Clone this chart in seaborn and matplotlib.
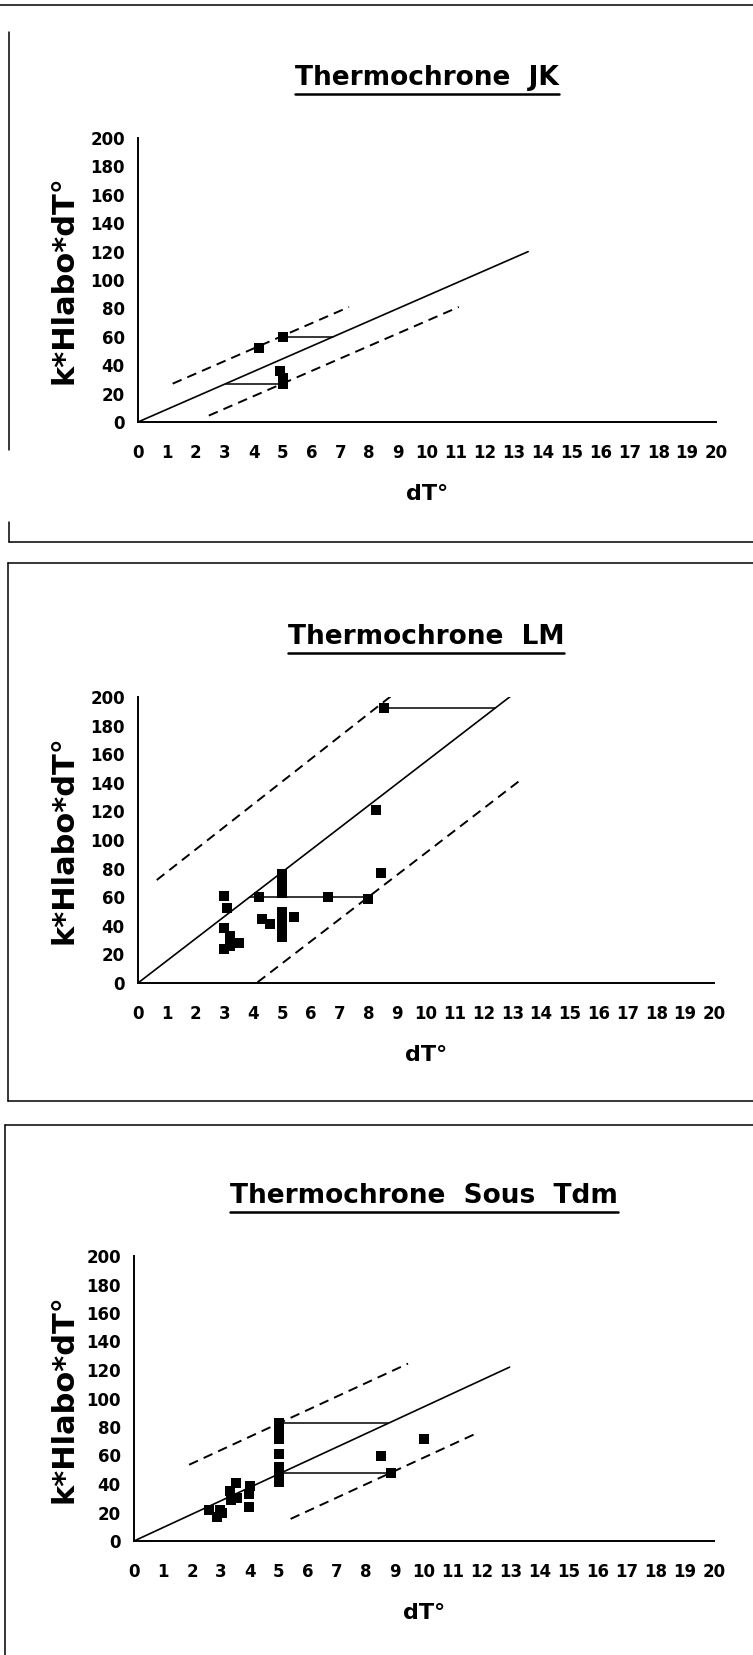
import matplotlib
matplotlib.use("Agg")
import matplotlib.pyplot as plt
from matplotlib.lines import Line2D
import seaborn as sns

# ---------------- data: Thermochrone JK ----------------
jk_dt = [4.2, 5.0, 4.9, 5.0, 5.0]
jk_val = [52, 60, 36, 31, 27]
jk_fit_dt, jk_fit_val = [0, 13.5], [0, 120]
jk_up_dt, jk_up_val = [1.2, 7.3], [27, 81]
jk_lo_dt, jk_lo_val = [2.45, 11.1], [4.5, 81]
jk_link_from = [5.0, 3.05]
jk_link_to = [6.75, 5.0]
jk_link_val = [60, 27]

# ---------------- data: Thermochrone LM ----------------
lm_dt = [3.0, 3.1, 3.0, 3.2, 3.5, 3.0, 3.2,
         4.2, 4.3, 4.6,
         5.0, 5.0, 5.0, 5.0, 5.0, 5.0, 5.0, 5.0, 5.0, 5.4,
         6.6, 8.0, 8.25, 8.45, 8.55]
lm_val = [61, 52.5, 38.5, 33, 28, 24, 26,
          60, 45, 41,
          76, 71.5, 67, 63, 49.5, 45, 40, 35.5, 32, 46.5,
          60, 58.5, 121, 77, 192]
lm_fit_dt, lm_fit_val = [0, 13.0], [0, 201.5]
lm_up_dt, lm_up_val = [0.65, 9.0], [72, 204]
lm_lo_dt, lm_lo_val = [4.15, 13.35], [0.5, 143]
lm_link_from = [3.9, 8.55]
lm_link_to = [8.0, 12.4]
lm_link_val = [60, 192]

# ---------------- data: Thermochrone Sous Tdm ----------------
st_dt = [2.6, 2.95, 2.85, 3.05, 3.3, 3.5, 3.35, 3.55, 4.0, 3.95, 3.95,
         5.0, 5.0, 5.0, 5.0, 5.0, 5.0, 5.0, 5.0,
         8.5, 8.85, 10.0]
st_val = [22, 22, 17, 19.5, 35, 40.5, 29, 30, 38.5, 33, 24,
          82.5, 76, 71.5, 61, 52, 48, 44.5, 41.5,
          60, 47.5, 71.5]
st_fit_dt, st_fit_val = [0, 12.95], [0, 122]
st_up_dt, st_up_val = [1.9, 9.45], [53.5, 124.5]
st_lo_dt, st_lo_val = [5.4, 11.75], [15.5, 75]
st_link_from = [5.0, 5.0]
st_link_to = [8.75, 8.85]
st_link_val = [82.5, 47.5]

titles = ["Thermochrone  JK", "Thermochrone  LM", "Thermochrone  Sous  Tdm"]
x_ticks = list(range(0, 21))
y_ticks = list(range(0, 201, 20))
x_label = "dT°"
y_label = "k*Hlabo*dT°"

panels = [
    dict(title=titles[0], dt=jk_dt, val=jk_val,
         fit=(jk_fit_dt, jk_fit_val), up=(jk_up_dt, jk_up_val), lo=(jk_lo_dt, jk_lo_val),
         links=(jk_link_from, jk_link_to, jk_link_val)),
    dict(title=titles[1], dt=lm_dt, val=lm_val,
         fit=(lm_fit_dt, lm_fit_val), up=(lm_up_dt, lm_up_val), lo=(lm_lo_dt, lm_lo_val),
         links=(lm_link_from, lm_link_to, lm_link_val)),
    dict(title=titles[2], dt=st_dt, val=st_val,
         fit=(st_fit_dt, st_fit_val), up=(st_up_dt, st_up_val), lo=(st_lo_dt, st_lo_val),
         links=(st_link_from, st_link_to, st_link_val)),
]

# ---------------- style ----------------
sns.set_style("white")
plt.rcParams["font.family"] = ["DejaVu Sans"]
plt.rcParams["font.weight"] = "bold"
plt.rcParams["axes.labelweight"] = "bold"
plt.rcParams["text.color"] = "black"
plt.rcParams["axes.labelcolor"] = "black"
plt.rcParams["xtick.color"] = "black"
plt.rcParams["ytick.color"] = "black"
plt.rcParams["lines.scale_dashes"] = False

W, H = 753, 1655
fig = plt.figure(figsize=(W / 100, H / 100), dpi=100)
fig.patch.set_facecolor("white")

# axes boxes in pixels: left, right, top, bottom
boxes = [(138, 716, 138, 422), (138, 714, 697, 983), (134, 714, 1256, 1541)]

DASH = (0, (7, 4.5))
title_texts = []

for p, (l, r, t, b) in zip(panels, boxes):
    ax = fig.add_axes([l / W, 1 - b / H, (r - l) / W, (b - t) / H])
    ax.set_facecolor("white")

    ax.plot(*p["fit"], color="black", lw=1.2)
    ax.plot(*p["up"], color="black", lw=1.4, linestyle=DASH)
    ax.plot(*p["lo"], color="black", lw=1.4, linestyle=DASH)
    for x0, x1, yv in zip(*p["links"]):
        ax.plot([x0, x1], [yv, yv], color="black", lw=1.1)

    sns.scatterplot(x=p["dt"], y=p["val"], marker="s", s=52, color="black",
                    edgecolor="black", linewidth=0, ax=ax, zorder=3, legend=False)

    ax.set_xlim(0, 20)
    ax.set_ylim(0, 200)
    ax.set_xticks(x_ticks)
    ax.set_yticks(y_ticks)
    sns.despine(ax=ax)
    for s in ("left", "bottom"):
        ax.spines[s].set_color("black")
        ax.spines[s].set_linewidth(1.4)
    ax.tick_params(axis="both", direction="inout", length=7, width=1.2,
                   colors="black", labelsize=12)
    ax.tick_params(axis="x", pad=12)
    ax.tick_params(axis="y", pad=6)
    for lab in ax.get_xticklabels() + ax.get_yticklabels():
        lab.set_fontweight("bold")

    ax.set_xlabel(x_label, fontsize=16, fontweight="bold", va="center")
    ax.xaxis.set_label_coords(0.5, -72 / (b - t))
    ax.set_ylabel(y_label, fontsize=22, fontweight="bold", va="center")
    ax.yaxis.set_label_coords((64 - l) / (r - l), 0.5)

    tt = ax.text(0.5, 1 + 53 / (b - t), p["title"], transform=ax.transAxes,
                 ha="center", va="baseline", fontsize=19, fontweight="bold",
                 color="black")
    title_texts.append(tt)

# panel frames
frame_segments = [
    ((0, 5), (753, 5)),
    ((9, 32), (9, 450)), ((9, 522), (9, 542)), ((9, 542), (753, 542)),
    ((8, 563), (753, 563)), ((8, 563), (8, 1101)), ((8, 1101), (753, 1101)),
    ((5, 1125), (753, 1125)), ((5, 1125), (5, 1655)),
]
for (x0, y0), (x1, y1) in frame_segments:
    fig.add_artist(Line2D([x0 / W, x1 / W], [1 - y0 / H, 1 - y1 / H],
                          color="black", lw=1.1))

# underline the titles
fig.canvas.draw()
renderer = fig.canvas.get_renderer()
for tt in title_texts:
    bb = tt.get_window_extent(renderer)
    yline = bb.y0 - 2.5
    fig.add_artist(Line2D([bb.x0 / W, bb.x1 / W], [yline / H, yline / H],
                          color="black", lw=1.8))

fig.savefig("out.png", dpi=100, facecolor="white")
